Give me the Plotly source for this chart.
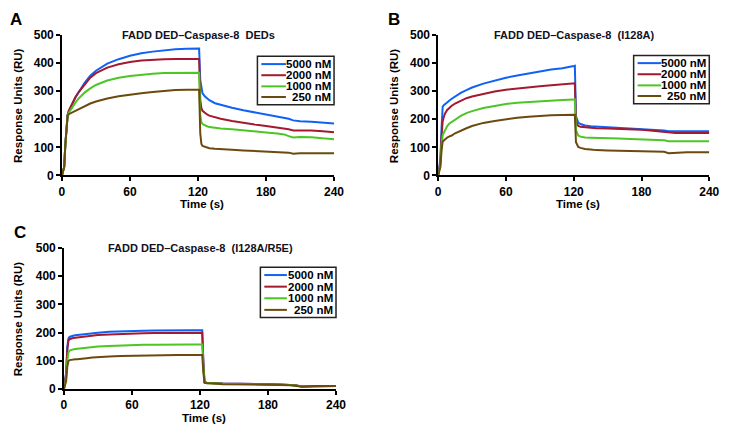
import plotly.graph_objects as go

W, H = 735, 433

# ---------------- data ----------------
time_s = [0, 2, 3, 4, 5, 6, 8, 10, 12, 15,
          20, 25, 30, 40, 50, 60, 70, 80, 90, 100,
          110, 120, 121, 122, 123, 124, 126, 128, 130, 135,
          140, 150, 160, 170, 180, 190, 196, 200, 204, 210,
          220, 230, 240]

series_names = ["5000 nM", "2000 nM", "1000 nM", "250 nM"]
series_colors = ["#1062F5", "#A3192F", "#4CC624", "#6B4A0E"]

panel_titles = ["FADD DED\u2013Caspase-8\u00a0\u00a0DEDs",
                "FADD DED\u2013Caspase-8\u00a0\u00a0(I128A)",
                "FADD DED\u2013Caspase-8\u00a0\u00a0(I128A/R5E)"]
panel_letters = ["A", "B", "C"]

x_ticks = [0, 60, 120, 180, 240]
y_ticks = [0, 100, 200, 300, 400, 500]

# Panel A: wild type
a_5000 = [0, 30, 110, 180, 215, 228, 245, 262, 278, 298,
          330, 355, 373, 398, 414, 426, 435, 441, 446, 449,
          451, 453, 452, 340, 305, 292, 282, 274, 268, 257,
          251, 241, 232, 225, 218, 211, 207, 202, 196, 193,
          191, 189, 185]
a_2000 = [0, 30, 110, 180, 215, 230, 248, 265, 280, 298,
          325, 348, 364, 384, 396, 404, 409, 412, 414, 415,
          416, 416, 415, 270, 240, 230, 222, 217, 213, 207,
          202, 194, 187, 181, 176, 171, 168, 164, 160, 161,
          160, 157, 154]
a_1000 = [0, 30, 110, 180, 212, 222, 236, 248, 260, 275,
          295, 310, 322, 338, 348, 354, 359, 362, 365, 366,
          367, 367, 366, 215, 190, 183, 178, 175, 172, 169,
          167, 164, 161, 157, 153, 149, 146, 140, 135, 137,
          136, 132, 129]
a_250 = [0, 30, 110, 180, 212, 218, 222, 226, 230, 238,
         248, 256, 263, 274, 282, 288, 293, 297, 301, 304,
         305, 306, 305, 150, 112, 105, 102, 99, 97, 95,
         93, 91, 89, 87, 86, 85, 84, 81, 77, 79,
         79, 79, 79]

# Panel B: I128A
b_5000 = [0, 60, 170, 245, 250, 254, 261, 267, 273, 281,
          294, 304, 313, 327, 338, 348, 356, 364, 370, 377,
          382, 390, 391, 210, 195, 188, 183, 180, 178, 175,
          174, 172, 170, 167, 165, 163, 162, 160, 157, 157,
          157, 157, 157]
b_2000 = [0, 50, 140, 193, 208, 220, 233, 242, 248, 256,
          266, 275, 281, 291, 299, 305, 310, 314, 318, 321,
          325, 327, 328, 190, 180, 176, 173, 172, 171, 169,
          168, 167, 166, 165, 163, 159, 157, 155, 152, 151,
          151, 151, 151]
b_1000 = [0, 40, 110, 142, 152, 162, 176, 185, 191, 200,
          212, 222, 229, 240, 248, 254, 259, 262, 265, 267,
          269, 270, 271, 160, 148, 142, 138, 136, 135, 134,
          133, 132, 131, 130, 129, 128, 128, 125, 122, 122,
          122, 122, 122]
b_250 = [0, 30, 90, 120, 124, 128, 135, 139, 142, 150,
         160, 168, 176, 187, 194, 200, 205, 209, 212, 214,
         215, 216, 216, 118, 106, 101, 98, 96, 94, 92,
         90, 89, 88, 88, 87, 86, 86, 84, 79, 81,
         82, 82, 82]

# Panel C: I128A/R5E
c_5000 = [0, 60, 150, 180, 185, 187, 189, 191, 192, 194,
          196, 198, 200, 203, 205, 206, 207, 208, 209, 209,
          209, 209, 209, 209, 100, 25, 23, 22, 21, 21,
          20, 20, 19, 19, 18, 17, 16, 15, 14, 10,
          11, 11, 11]
c_2000 = [0, 55, 140, 172, 177, 179, 181, 182, 183, 185,
          187, 189, 192, 194, 196, 197, 198, 199, 199, 200,
          200, 200, 200, 200, 95, 25, 23, 22, 21, 21,
          20, 20, 19, 19, 18, 17, 16, 15, 14, 10,
          11, 11, 11]
c_1000 = [0, 40, 100, 130, 137, 139, 141, 142, 143, 145,
          147, 149, 151, 153, 155, 156, 157, 157, 158, 158,
          158, 158, 158, 158, 80, 24, 22, 21, 20, 20,
          19, 19, 18, 18, 17, 16, 16, 15, 13, 10,
          11, 11, 11]
c_250 = [0, 30, 80, 100, 103, 104, 105, 106, 106, 108,
         110, 112, 114, 116, 118, 119, 120, 120, 121, 121,
         121, 121, 121, 121, 60, 23, 21, 20, 19, 19,
         18, 18, 17, 17, 16, 15, 15, 14, 12, 9,
         11, 11, 11]

panels = [[a_5000, a_2000, a_1000, a_250],
          [b_5000, b_2000, b_1000, b_250],
          [c_5000, c_2000, c_1000, c_250]]

# ---------------- layout geometry (pixels) ----------------
# plot boxes: (left, right, top, bottom)
boxes = [(60, 337, 29, 174), (443, 719, 29, 174), (62, 339, 249, 395)]
letter_pos = [(13, 13), (398, 13), (17, 233)]
ytitle_x = [15, 398, 15]
# legend: box (l, r, t, b), line x0,x1, text right, row y's
legends = [
    dict(box=(259, 337, 51, 101), lx=(263, 288), tx=335, ys=[59, 70.5, 82, 93]),
    dict(box=(642, 719, 50, 100), lx=(646, 670), tx=717, ys=[58, 69.5, 81, 92]),
    dict(box=(262, 339, 269, 321), lx=(266, 289), tx=337, ys=[277, 289, 301, 313]),
]

def px(x):
    return x / W

def py(y):
    return 1 - y / H

FONT = "Liberation Sans, Arial, sans-serif"

fig = go.Figure()
shapes = []
annotations = []

for i, (series, (l, r, t, b)) in enumerate(zip(panels, boxes)):
    sfx = "" if i == 0 else str(i + 1)
    xname, yname = "x" + sfx, "y" + sfx
    for name, col, vals in zip(series_names, series_colors, series):
        fig.add_trace(go.Scatter(x=time_s, y=vals, mode="lines", name=name,
                                 line=dict(color=col, width=2),
                                 xaxis=xname, yaxis=yname, showlegend=False,
                                 hoverinfo="skip"))
    axis_common = dict(showline=True, linecolor="black", linewidth=1.5,
                       ticks="outside", ticklen=4, tickwidth=1.5, tickcolor="black",
                       showgrid=False, zeroline=False, fixedrange=True,
                       tickfont=dict(family=FONT, size=12, color="black", weight="bold"))
    fig.update_layout(**{
        "xaxis" + sfx: dict(axis_common, domain=[px(l), px(r)], range=[0, 240],
                            tickvals=x_ticks, anchor=yname),
        "yaxis" + sfx: dict(axis_common, domain=[py(b), py(t)], range=[0, 500],
                            tickvals=y_ticks, anchor=xname),
    })
    cx = (l + r) / 2
    # panel title
    annotations.append(dict(text=panel_titles[i], x=px(cx + 1), y=py(t), xref="paper", yref="paper",
                            showarrow=False, xanchor="center", yanchor="middle", borderpad=0,
                            font=dict(family=FONT, size=11, color="#111122", weight="bold")))
    # panel letter
    lx_, ly_ = letter_pos[i]
    annotations.append(dict(text=panel_letters[i], x=px(lx_), y=py(ly_), xref="paper", yref="paper",
                            showarrow=False, xanchor="center", yanchor="middle", borderpad=0,
                            font=dict(family=FONT, size=17, color="black", weight="bold")))
    # axis titles
    annotations.append(dict(text="Time (s)", x=px(cx + 4), y=py(b + 30), xref="paper", yref="paper",
                            showarrow=False, xanchor="center", yanchor="middle", borderpad=0,
                            font=dict(family=FONT, size=11.5, color="black", weight="bold")))
    annotations.append(dict(text="Response Units (RU)", x=px(ytitle_x[i]), y=py((t + b) / 2),
                            xref="paper", yref="paper", textangle=-90, borderpad=0,
                            showarrow=False, xanchor="center", yanchor="middle",
                            font=dict(family=FONT, size=11.5, color="black", weight="bold")))
    # legend drawn by hand
    lg = legends[i]
    bl, br, bt, bb = lg["box"]
    shapes.append(dict(type="rect", xref="paper", yref="paper",
                       x0=px(bl), x1=px(br), y0=py(bb), y1=py(bt),
                       line=dict(color="#222222", width=1.5), fillcolor="white"))
    for name, col, yy in zip(series_names, series_colors, lg["ys"]):
        shapes.append(dict(type="line", xref="paper", yref="paper",
                           x0=px(lg["lx"][0]), x1=px(lg["lx"][1]), y0=py(yy), y1=py(yy),
                           line=dict(color=col, width=2)))
        annotations.append(dict(text=name, x=px(lg["tx"]), y=py(yy), xref="paper", yref="paper",
                                showarrow=False, xanchor="right", yanchor="middle", borderpad=0,
                                font=dict(family=FONT, size=11.5, color="black", weight="bold")))

fig.update_layout(autosize=True, margin=dict(l=0, r=0, t=0, b=0, pad=0),
                  paper_bgcolor="white", plot_bgcolor="white",
                  shapes=shapes, annotations=annotations, showlegend=False)

post = """
document.documentElement.style.margin='0';
document.documentElement.style.padding='0';
document.documentElement.style.overflow='hidden';
document.body.style.margin='0';
document.body.style.padding='0';
document.body.style.overflow='hidden';
var gd = document.querySelector('.plotly-graph-div');
if (gd) {
  gd.style.position='fixed'; gd.style.left='0px'; gd.style.top='0px';
  gd.style.width='100vw'; gd.style.height='100vh';
  Plotly.Plots.resize(gd);
}
"""

fig.write_html("out.html", config={"displayModeBar": False, "responsive": True},
               default_width="100vw", default_height="100vh",
               post_script=post)
